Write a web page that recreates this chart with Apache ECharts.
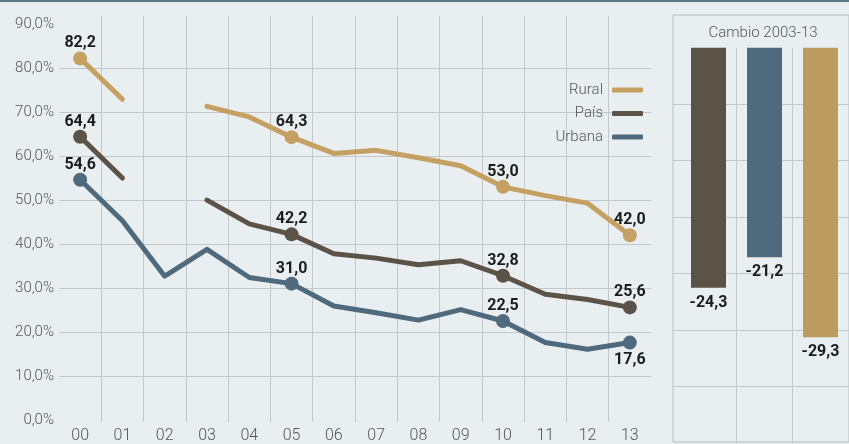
<!DOCTYPE html>
<html>
<head>
<meta charset="utf-8">
<script src="https://cdn.jsdelivr.net/npm/echarts@6/dist/echarts.min.js"></script>
<style>
html,body{margin:0;padding:0;background:#e9eff0;}
#c{width:849px;height:444px;}
</style>
</head>
<body>
<div id="c"></div>
<script>
// ---- data ----
const years = ['00','01','02','03','04','05','06','07','08','09','10','11','12','13'];
const rural  = [82.2, 72.9, null, 71.3, 68.9, 64.3, 60.6, 61.3, 59.6, 57.8, 53.0, 51.0, 49.3, 42.0];
const pais   = [64.4, 55.0, null, 50.0, 44.6, 42.2, 37.8, 36.8, 35.3, 36.2, 32.8, 28.6, 27.4, 25.6];
const urbana = [54.6, 45.3, 32.7, 38.8, 32.4, 31.0, 25.9, 24.4, 22.7, 25.1, 22.5, 17.6, 16.1, 17.6];
const markedIdx = [0, 5, 10, 13];
const changeCats = ['País', 'Urbana', 'Rural'];
const changeVals = [-24.3, -21.2, -29.3];
const yTicks = [0, 10, 20, 30, 40, 50, 60, 70, 80, 90];

const C_RURAL = '#c4a063', C_PAIS = '#5b5248', C_URB = '#4e6a7c';
const BAR_COLORS = ['#5b5248', '#4f6a7c', '#bc9b60'];
const GRID = '#c3c7c9';
const FONT = 'Roboto, "Liberation Sans", sans-serif';
const fmt = v => v.toFixed(1).replace('.', ',');

function buildData(arr, belowLast) {
  return arr.map((v, i) => {
    if (markedIdx.indexOf(i) < 0) return v;
    const below = belowLast && i === arr.length - 1;
    return {
      value: v, symbol: 'circle', symbolSize: 14,
      label: { show: true, position: below ? 'bottom' : 'top', distance: below ? 2 : 0 }
    };
  });
}
function lineSeries(name, arr, color, belowLast) {
  return {
    name, type: 'line', xAxisIndex: 0, yAxisIndex: 0,
    data: buildData(arr, belowLast), symbol: 'none', connectNulls: false,
    lineStyle: { width: 5, color, cap: 'round', join: 'round' },
    itemStyle: { color },
    label: { show: false, formatter: p => fmt(p.value), color: '#1c1c1c',
             fontFamily: FONT, fontWeight: 'bold', fontSize: 16 },
    emphasis: { disabled: true }, animation: false, z: 5
  };
}

const chart = echarts.init(document.getElementById('c'), null, { renderer: 'canvas' });
chart.setOption({
  backgroundColor: '#e9eff0',
  animation: false,
  graphic: [
    { type: 'rect', shape: { x: 0, y: 0, width: 849, height: 2 }, style: { fill: '#5f7885' }, z: 10 },
    { type: 'text', x: 763, y: 33, style: { text: 'Cambio 2003-13', textAlign: 'center', textVerticalAlign: 'middle',
      font: '300 15px ' + FONT, fill: '#555' } }
  ],
  legend: {
    data: ['Rural', 'País', 'Urbana'], orient: 'vertical', align: 'right',
    right: 206, top: 82.5, padding: 0, itemGap: 8.5, icon: 'roundRect', itemWidth: 31, itemHeight: 5,
    textStyle: { fontFamily: FONT, fontWeight: 300, fontSize: 15, color: '#555', padding: [0, 4, 0, 0] },
    selectedMode: false
  },
  grid: [
    { left: 59, right: 198, top: 24.1, bottom: 22 },
    { left: 59, right: 198, top: 16, bottom: 22 },
    { left: 673, right: -10, top: 15, bottom: 2, show: true, borderColor: '#b8bcbe', borderWidth: 1, backgroundColor: 'transparent' },
    { left: 673, right: -10, top: 47.7, bottom: 1 },
    { left: 680.5, right: 0.5, top: 47.7, bottom: 1 }
  ],
  xAxis: [
    { gridIndex: 0, type: 'category', data: years, boundaryGap: true,
      axisLine: { show: false }, axisTick: { show: false }, splitLine: { show: false },
      axisLabel: { margin: 8, fontFamily: FONT, fontWeight: 300, fontSize: 16, color: '#555', interval: 0 } },
    { gridIndex: 1, type: 'category', data: years, boundaryGap: true,
      axisLine: { show: false }, axisTick: { show: false }, axisLabel: { show: false },
      splitLine: { show: true, interval: 0, showMinLine: false, showMaxLine: false, lineStyle: { color: GRID, width: 1 } } },
    { gridIndex: 2, type: 'value', show: false },
    { gridIndex: 3, type: 'value', show: false },
    { gridIndex: 4, type: 'category', data: changeCats, boundaryGap: true,
      axisLine: { show: false }, axisTick: { show: false }, axisLabel: { show: false },
      splitLine: { show: true, interval: 0, showMinLine: false, showMaxLine: false, lineStyle: { color: GRID, width: 1 } } }
  ],
  yAxis: [
    { gridIndex: 0, type: 'value', min: yTicks[0], max: yTicks[yTicks.length - 1], interval: 10,
      axisLine: { show: false }, axisTick: { show: false },
      axisLabel: { margin: 5, fontFamily: FONT, fontWeight: 300, fontSize: 15, color: '#555',
                   formatter: v => fmt(v) + '%' },
      splitLine: { show: true, showMinLine: false, showMaxLine: false, lineStyle: { color: GRID, width: 1 } } },
    { gridIndex: 1, type: 'value', min: 0, max: 91.8, show: false, splitLine: { show: false } },
    { gridIndex: 2, type: 'value', show: false },
    { gridIndex: 3, type: 'value', min: -40, max: 0, interval: 40 / 7,
      axisLine: { show: false }, axisTick: { show: false }, axisLabel: { show: false },
      splitLine: { show: true, showMinLine: false, showMaxLine: false, lineStyle: { color: GRID, width: 1 } } },
    { gridIndex: 4, type: 'value', min: -40, max: 0, show: false, splitLine: { show: false } }
  ],
  series: [
    lineSeries('Rural', rural, C_RURAL, false),
    lineSeries('País', pais, C_PAIS, false),
    lineSeries('Urbana', urbana, C_URB, true),
    { type: 'bar', xAxisIndex: 4, yAxisIndex: 4, barWidth: 35,
      data: changeVals.map((v, i) => ({ value: v, itemStyle: { color: BAR_COLORS[i] } })),
      label: { show: true, position: 'bottom', distance: 7, formatter: p => fmt(p.value),
               fontFamily: FONT, fontWeight: 'bold', fontSize: 16, color: '#1c1c1c' },
      emphasis: { disabled: true }, z: 5 }
  ]
});
</script>
</body>
</html>
